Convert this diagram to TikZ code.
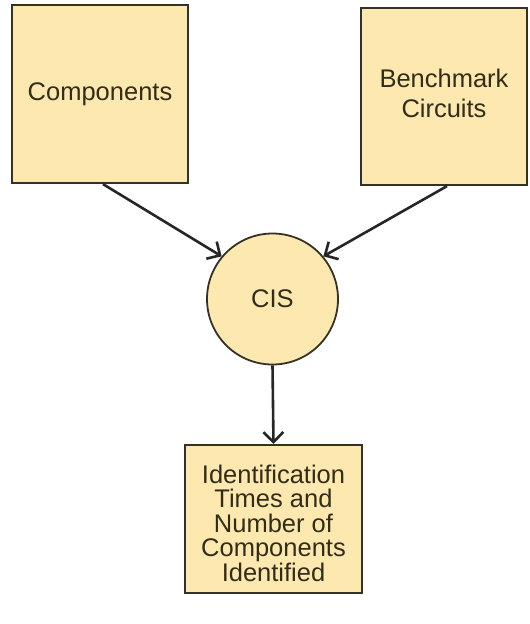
\documentclass[tikz,border=0pt]{standalone}
\usepackage{fontspec}
\setmainfont{Liberation Sans}
\usetikzlibrary{arrows.meta}
\definecolor{boxfill}{RGB}{253,232,176}
\definecolor{boxline}{RGB}{52,50,38}
\definecolor{boxtext}{RGB}{50,45,25}
\tikzset{
  block/.style={draw=boxline, fill=boxfill, line width=2.2pt, inner sep=0pt,
    align=center, text=boxtext, font=\fontsize{25.5}{24.5}\selectfont},
  hub/.style={circle, draw=boxline, fill=boxfill, line width=1.8pt, inner sep=0pt,
    minimum size=131pt, text=boxtext, font=\fontsize{25.5}{24.5}\selectfont},
  flow/.style={draw=black!85, line width=2.6pt,
    -{Straight Barb[length=10pt,width=20pt,line width=2.6pt]}}
}
\begin{document}
\begin{tikzpicture}[x=1pt, y=-1pt]
  \useasboundingbox (0,0) rectangle (530,624);
  \node[block, minimum width=176pt, minimum height=178pt] (comp) at (100,94) {Components};
  \node[block, minimum width=166pt, minimum height=177pt] (bench) at (444,96.5) {};
  \node[text=boxtext, align=center, font=\fontsize{25.5}{30}\selectfont] (benchtext)
    at (444,93) {Benchmark\\Circuits};
  \node[hub] (cis) at (272.5,299) {CIS};
  \node[block, minimum width=177pt, minimum height=148pt] (out) at (273.5,519) {};
  \node[text=boxtext, align=center, font=\fontsize{25.5}{24.5}\selectfont] (outtext)
    at (273.5,523) {Identification\\Times and\\Number of\\Components\\Identified};
  \draw[flow] ([xshift=3pt]comp.south) -- (cis.140);
  \draw[flow] ([xshift=3pt]bench.south) -- (cis.40);
  \draw[flow] (cis.south) -- (out.north);
\end{tikzpicture}
\end{document}
